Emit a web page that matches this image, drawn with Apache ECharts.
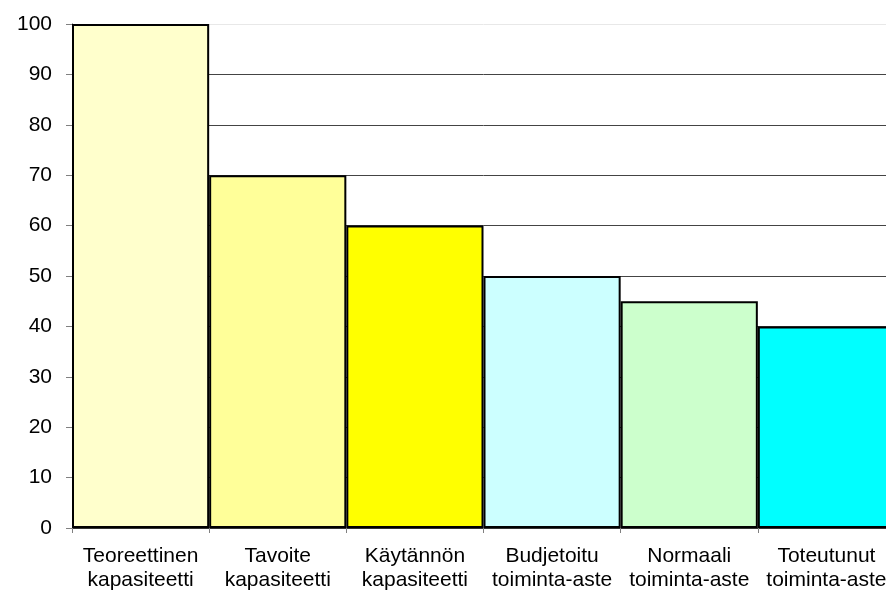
<!DOCTYPE html>
<html>
<head>
<meta charset="utf-8">
<script src="https://cdn.jsdelivr.net/npm/echarts@6/dist/echarts.min.js"></script>
<style>
  html, body { margin: 0; padding: 0; background: #fff; overflow: hidden; }
  #chart { width: 895px; height: 601px; }
</style>
</head>
<body>
<div id="chart"></div>
<script>
// kategoriat ja arvot
const categories = [
  'Teoreettinen\nkapasiteetti',
  'Tavoite\nkapasiteetti',
  'Käytännön\nkapasiteetti',
  'Budjetoitu\ntoiminta-aste',
  'Normaali\ntoiminta-aste',
  'Toteutunut\ntoiminta-aste'
];
const values = [100, 70, 60, 50, 45, 40];
const barColors = ['#FFFFCC', '#FFFF99', '#FFFF00', '#CCFFFF', '#CCFFCC', '#00FFFF'];

// ruudukon viivat: ylin viiva on vaalea (piirtoalueen reuna)
const gridColors = ['#444', '#444', '#444', '#444', '#444', '#444', '#444', '#444', '#444', '#444', '#e8e8e8'];

const chart = echarts.init(document.getElementById('chart'));

const option = {
  animation: false,
  grid: { left: 72, right: 0, top: 24, bottom: 73 },
  xAxis: {
    type: 'category',
    data: categories,
    axisLine: { lineStyle: { color: '#333', width: 1 } },
    axisTick: { show: true, alignWithLabel: false, length: 5, lineStyle: { color: '#808080' } },
    axisLabel: {
      color: '#000',
      fontFamily: 'Liberation Sans, Arial, sans-serif',
      fontSize: 21,
      lineHeight: 24,
      margin: 16,
      interval: 0
    }
  },
  yAxis: {
    type: 'value',
    min: 0,
    max: 100,
    interval: 10,
    axisLine: { show: true, lineStyle: { color: '#333', width: 1 } },
    axisTick: { show: true, length: 6, lineStyle: { color: '#808080' } },
    axisLabel: {
      color: '#000',
      fontFamily: 'Liberation Sans, Arial, sans-serif',
      fontSize: 21,
      margin: 20
    },
    splitLine: { show: true, lineStyle: { color: gridColors, width: 1 } }
  },
  series: [
    {
      type: 'bar',
      barCategoryGap: '0%',
      data: values.map((v, i) => ({
        value: v,
        itemStyle: { color: barColors[i] }
      })),
      itemStyle: { borderColor: '#000', borderWidth: 2 }
    }
  ]
};

chart.setOption(option);
</script>
</body>
</html>
